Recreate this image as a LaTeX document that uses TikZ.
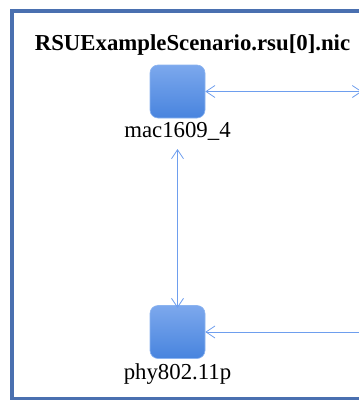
\documentclass[tikz,border=0pt]{standalone}
\usepackage{fontspec}
\setmainfont{Liberation Serif}
\usetikzlibrary{arrows.meta}
\definecolor{framec}{RGB}{74,112,176}
\definecolor{boxtop}{RGB}{124,168,237}
\definecolor{boxbot}{RGB}{72,132,222}
\definecolor{boxedge}{RGB}{140,180,240}
\definecolor{linkc}{RGB}{110,158,238}
\tikzset{
  modbox/.style={rounded corners=8pt, top color=boxtop, bottom color=boxbot, draw=boxedge, line width=0.6pt, minimum width=55pt, minimum height=53pt, inner sep=0pt},
  lbl/.style={font=\fontsize{22.8}{27}\selectfont, anchor=base, inner sep=0pt},
  ttl/.style={font=\fontsize{22.8}{27}\selectfont\bfseries, anchor=base, inner sep=0pt},
  link/.style={draw=linkc, line width=0.8pt},
  linktip/.tip={Straight Barb[length=9pt,width=12pt,line width=0.8pt]}
}
\begin{document}
\begin{tikzpicture}[x=1pt,y=-1pt]
\useasboundingbox (0,0) rectangle (359,400);
\clip (0,0) rectangle (359,400);
\fill[white] (0,0) rectangle (359,400);
\draw[framec, line width=4pt] (390,11) -- (12,11) -- (12,398.5) -- (390,398.5);
\node[ttl] (title) at (192.5,50) {RSUExampleScenario.rsu[0].nic};
\node[modbox] (mac) at (177.5,91.5) {};
\node[lbl] (maclbl) at (177.5,137) {mac1609\_4};
\node[modbox] (phy) at (177.5,332) {};
\node[lbl] (phylbl) at (177.5,379) {phy802.11p};
\coordinate (macout) at (362,91.5);
\coordinate (phyin) at (370,332);
\coordinate (vtop) at (177.5,149);
\coordinate (vbot) at (177.5,308);
\draw[link, linktip-linktip] (mac.east) -- (macout);
\draw[link, linktip-] (phy.east) -- (phyin);
\draw[link, linktip-linktip] (vtop) -- (vbot);
\end{tikzpicture}
\end{document}
